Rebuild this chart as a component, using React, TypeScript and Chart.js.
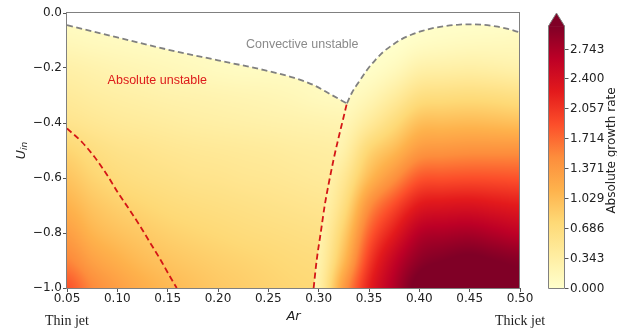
import React, { useEffect, useRef } from 'react';
import { Chart, registerables } from 'chart.js';

Chart.register(...registerables);

// U_in rows shared by both growth-rate grids
const uinGrid = [0, -0.1, -0.2, -0.3, -0.4, -0.5, -0.6, -0.7, -0.8, -0.9, -1.0];

// Thin-jet side of the field (left of the right-hand absolute branch)
const arLeftGrid = [0.05, 0.075, 0.1, 0.125, 0.15, 0.175, 0.2, 0.225, 0.25, 0.275, 0.3, 0.325];
const leftGrowth: number[][] = [
  [0.05, 0.05, 0.05, 0.05, 0.05, 0.05, 0.05, 0.05, 0.05, 0.05, 0.05, 0.05],
  [0.15, 0.12, 0.1, 0.08, 0.07, 0.06, 0.06, 0.06, 0.06, 0.06, 0.06, 0.05],
  [0.3, 0.26, 0.22, 0.19, 0.16, 0.13, 0.1, 0.08, 0.08, 0.08, 0.08, 0.06],
  [0.42, 0.37, 0.33, 0.3, 0.27, 0.25, 0.23, 0.21, 0.19, 0.16, 0.12, 0.1],
  [0.55, 0.49, 0.44, 0.41, 0.38, 0.35, 0.33, 0.31, 0.29, 0.27, 0.25, 0.23],
  [0.78, 0.66, 0.58, 0.54, 0.5, 0.47, 0.45, 0.43, 0.41, 0.38, 0.36, 0.34],
  [0.95, 0.8, 0.7, 0.64, 0.6, 0.56, 0.54, 0.51, 0.49, 0.46, 0.43, 0.41],
  [1.12, 0.95, 0.84, 0.77, 0.71, 0.67, 0.64, 0.61, 0.58, 0.55, 0.52, 0.49],
  [1.32, 1.1, 0.98, 0.9, 0.83, 0.78, 0.74, 0.7, 0.67, 0.64, 0.61, 0.58],
  [1.55, 1.3, 1.15, 1.03, 0.95, 0.89, 0.84, 0.8, 0.76, 0.72, 0.69, 0.66],
  [1.85, 1.52, 1.32, 1.17, 1.06, 0.98, 0.91, 0.86, 0.81, 0.77, 0.74, 0.71],
];

// Thick-jet side of the field
const arRightGrid = [0.275, 0.3, 0.325, 0.35, 0.375, 0.4, 0.425, 0.45, 0.475, 0.5];
const rightGrowth: number[][] = [
  [0.0, 0.0, 0.02, 0.0, 0.0, 0.0, 0.0, 0.0, 0.0, 0.0],
  [0.02, 0.02, 0.02, 0.0, 0.0, 0.05, 0.08, 0.1, 0.11, 0.12],
  [0.03, 0.03, 0.03, 0.03, 0.12, 0.28, 0.31, 0.33, 0.31, 0.28],
  [0.08, 0.08, 0.08, 0.18, 0.38, 0.62, 0.66, 0.68, 0.66, 0.62],
  [0.1, 0.1, 0.18, 0.42, 0.7, 1.0, 1.03, 1.05, 1.03, 1.0],
  [0.13, 0.15, 0.3, 0.77, 1.05, 1.37, 1.42, 1.45, 1.45, 1.45],
  [0.16, 0.2, 0.48, 1.05, 1.45, 1.82, 1.86, 1.88, 1.87, 1.85],
  [0.18, 0.22, 0.65, 1.45, 1.9, 2.27, 2.33, 2.35, 2.3, 2.25],
  [0.2, 0.25, 0.85, 1.75, 2.25, 2.65, 2.72, 2.75, 2.68, 2.6],
  [0.22, 0.28, 1.05, 2.0, 2.55, 2.9, 3.0, 3.05, 3.0, 2.95],
  [0.25, 0.32, 1.35, 2.2, 2.7, 3.1, 3.15, 3.15, 3.1, 3.05],
];

// Convective / absolute boundary: two branches meeting at a cusp
const convLeftAr = [0.05, 0.1, 0.15, 0.2, 0.245, 0.275, 0.295, 0.312, 0.328];
const convLeftUin = [-0.044, -0.089, -0.133, -0.172, -0.207, -0.235, -0.262, -0.296, -0.329];
const convRightAr = [0.328, 0.333, 0.34, 0.348, 0.356, 0.364, 0.373, 0.382, 0.392, 0.403, 0.415, 0.427, 0.44, 0.452, 0.464, 0.476, 0.488, 0.5];
const convRightUin = [-0.329, -0.29, -0.25, -0.207, -0.172, -0.142, -0.117, -0.096, -0.079, -0.065, -0.054, -0.047, -0.042, -0.041, -0.043, -0.049, -0.058, -0.071];

// Absolute-instability branches
const absLeftAr = [0.05, 0.065, 0.077, 0.09, 0.1, 0.112, 0.123, 0.133, 0.143, 0.151, 0.159];
const absLeftUin = [-0.42, -0.47, -0.522, -0.59, -0.65, -0.715, -0.777, -0.838, -0.898, -0.95, -1.0];
const absRightAr = [0.295, 0.298, 0.302, 0.306, 0.31, 0.315, 0.32, 0.324, 0.328];
const absRightUin = [-1.0, -0.9, -0.8, -0.7, -0.62, -0.53, -0.45, -0.39, -0.329];

const arTicks = [0.05, 0.1, 0.15, 0.2, 0.25, 0.3, 0.35, 0.4, 0.45, 0.5];
const uinTicks = [0, -0.2, -0.4, -0.6, -0.8, -1.0];
const cbarTicks = [0, 0.343, 0.686, 1.029, 1.371, 1.714, 2.057, 2.4, 2.743];
const cbarMax = 3.0;

const ylOrRd = ['#ffffcc', '#ffeda0', '#fed976', '#feb24c', '#fd8d3c', '#fc4e2a', '#e31a1c', '#bd0026', '#800026'];

const GRAY = '#808080';
const RED = '#d41616';
const TEXT = '#222222';
const SANS = '"DejaVu Sans", sans-serif';

const ylOrRdRgb = ylOrRd.map((h) => [
  parseInt(h.slice(1, 3), 16),
  parseInt(h.slice(3, 5), 16),
  parseInt(h.slice(5, 7), 16),
]);

function colorFor(v: number): number[] {
  const n = ylOrRdRgb.length - 1;
  const t = Math.min(Math.max(v / cbarMax, 0), 1) * n;
  const i = Math.min(Math.floor(t), n - 1);
  const f = t - i;
  const a = ylOrRdRgb[i];
  const b = ylOrRdRgb[i + 1];
  return [0, 1, 2].map((k) => Math.round(a[k] + (b[k] - a[k]) * f));
}

// Catmull-Rom weights for smooth shading between grid nodes
function catmull(p0: number, p1: number, p2: number, p3: number, t: number) {
  return p1 + 0.5 * t * (p2 - p0 + t * (2 * p0 - 5 * p1 + 4 * p2 - p3 + t * (3 * (p1 - p2) + p3 - p0)));
}

function sampleGrid(grid: number[][], cols: number[], ar: number, uin: number) {
  const nx = cols.length;
  const ny = uinGrid.length;
  const fi = Math.min(Math.max((ar - cols[0]) / (cols[1] - cols[0]), 0), nx - 1);
  const fj = Math.min(Math.max((uinGrid[0] - uin) / (uinGrid[0] - uinGrid[1]), 0), ny - 1);
  const i = Math.min(Math.floor(fi), nx - 2);
  const j = Math.min(Math.floor(fj), ny - 2);
  const tx = fi - i;
  const ty = fj - j;
  const ci = (k: number) => Math.min(Math.max(k, 0), nx - 1);
  const cj = (k: number) => Math.min(Math.max(k, 0), ny - 1);
  const rowVals = [-1, 0, 1, 2].map((dj) => {
    const r = grid[cj(j + dj)];
    return catmull(r[ci(i - 1)], r[ci(i)], r[ci(i + 1)], r[ci(i + 2)], tx);
  });
  return catmull(rowVals[0], rowVals[1], rowVals[2], rowVals[3], ty);
}

function renderField(chart: any, grid: number[][], cols: number[]) {
  const { chartArea: area, scales } = chart;
  const left = Math.floor(area.left);
  const top = Math.floor(area.top);
  const w = Math.ceil(area.right) - left;
  const h = Math.ceil(area.bottom) - top;
  const tile = document.createElement('canvas');
  tile.width = w;
  tile.height = h;
  const tctx = tile.getContext('2d')!;
  const img = tctx.createImageData(w, h);
  for (let py = 0; py < h; py++) {
    const uin = scales.y.getValueForPixel(top + py + 0.5);
    for (let px = 0; px < w; px++) {
      const ar = scales.x.getValueForPixel(left + px + 0.5);
      const [r, g, b] = colorFor(sampleGrid(grid, cols, ar, uin));
      const o = (py * w + px) * 4;
      img.data[o] = r;
      img.data[o + 1] = g;
      img.data[o + 2] = b;
      img.data[o + 3] = 255;
    }
  }
  tctx.putImageData(img, 0, 0);
  return { tile, left, top };
}

// Follows a dataset's drawn curve using the control points Chart.js computed
function traceForward(ctx: CanvasRenderingContext2D, pts: any[], move: boolean) {
  pts.forEach((p, k) => {
    if (k === 0) {
      if (move) ctx.moveTo(p.x, p.y);
      else ctx.lineTo(p.x, p.y);
      return;
    }
    const q = pts[k - 1];
    ctx.bezierCurveTo(q.cp2x, q.cp2y, p.cp1x, p.cp1y, p.x, p.y);
  });
}

function traceBackward(ctx: CanvasRenderingContext2D, pts: any[]) {
  for (let k = pts.length - 1; k >= 0; k--) {
    const p = pts[k];
    if (k === pts.length - 1) {
      ctx.lineTo(p.x, p.y);
      continue;
    }
    const q = pts[k + 1];
    ctx.bezierCurveTo(q.cp1x, q.cp1y, p.cp2x, p.cp2y, p.x, p.y);
  }
}

const toPoints = (xs: number[], ys: number[]) => xs.map((x, i) => ({ x, y: ys[i] }));

function dashed(xs: number[], ys: number[], color: string) {
  return {
    data: toPoints(xs, ys),
    borderColor: color,
    borderWidth: 1.8,
    borderDash: [6, 3.5],
    pointRadius: 0,
    fill: false,
    cubicInterpolationMode: 'monotone' as const,
  };
}

// Paints the growth-rate field below the convective boundary
const fieldPlugin = {
  id: 'growthField',
  beforeDatasetsDraw(chart: any) {
    const { ctx, chartArea: area } = chart;
    const metas = [0, 1, 2, 3].map((i) => chart.getDatasetMeta(i));
    metas.forEach((m) => m.dataset.updateControlPoints(area, 'x'));
    const convL = metas[0].data;
    const convR = metas[1].data;
    const absR = metas[3].data;
    const first = convL[0];
    const lastR = convR[convR.length - 1];

    const rightField = renderField(chart, rightGrowth, arRightGrid);
    const leftField = renderField(chart, leftGrowth, arLeftGrid);

    ctx.save();
    ctx.beginPath();
    ctx.rect(area.left, area.top, area.right - area.left, area.bottom - area.top);
    ctx.clip();

    // whole region under both boundary branches
    ctx.beginPath();
    traceForward(ctx, convL, true);
    traceForward(ctx, convR, false);
    ctx.lineTo(area.right + 2, lastR.y);
    ctx.lineTo(area.right + 2, area.bottom + 2);
    ctx.lineTo(area.left - 2, area.bottom + 2);
    ctx.lineTo(area.left - 2, first.y);
    ctx.closePath();
    ctx.clip();
    ctx.drawImage(rightField.tile, rightField.left, rightField.top);

    // thin-jet side, bounded by the right-hand absolute branch
    ctx.beginPath();
    traceForward(ctx, convL, true);
    traceBackward(ctx, absR);
    ctx.lineTo(absR[0].x, area.bottom + 2);
    ctx.lineTo(area.left - 2, area.bottom + 2);
    ctx.lineTo(area.left - 2, first.y);
    ctx.closePath();
    ctx.clip();
    ctx.drawImage(leftField.tile, leftField.left, leftField.top);
    ctx.restore();
  },
};

// Frame, region labels, axis captions and the colour bar
const decorPlugin = {
  id: 'decor',
  afterDraw(chart: any) {
    const { ctx, chartArea: area, scales } = chart;
    const xs = scales.x;
    const ys = scales.y;
    ctx.save();

    // axes frame
    ctx.strokeStyle = GRAY;
    ctx.lineWidth = 1;
    const L = Math.round(area.left) - 0.5;
    const T = Math.round(area.top) - 0.5;
    const R = Math.round(area.right) - 0.5;
    const B = Math.round(area.bottom) + 0.5;
    ctx.strokeRect(L, T, R - L, B - T);

    // region labels
    ctx.textAlign = 'center';
    ctx.textBaseline = 'middle';
    ctx.font = '12.5px "Liberation Sans", Arial, sans-serif';
    ctx.fillStyle = '#8a8a8a';
    ctx.fillText('Convective unstable', xs.getPixelForValue(0.2837), ys.getPixelForValue(-0.114));
    ctx.fillStyle = '#dd1a1a';
    ctx.fillText('Absolute unstable', xs.getPixelForValue(0.1397), ys.getPixelForValue(-0.245));

    // axis captions
    ctx.fillStyle = TEXT;
    ctx.textBaseline = 'alphabetic';
    ctx.font = 'italic 13px ' + SANS;
    ctx.fillText('Ar', (area.left + area.right) / 2, 319.5);
    ctx.font = '14px "Liberation Serif", "Times New Roman", serif';
    ctx.fillText('Thin jet', area.left, 325);
    ctx.fillText('Thick jet', area.right, 325);

    // U_in, rotated
    ctx.save();
    ctx.translate(24.5, (area.top + area.bottom) / 2);
    ctx.rotate(-Math.PI / 2);
    ctx.font = 'italic 12.5px ' + SANS;
    const wU = ctx.measureText('U').width;
    ctx.font = 'italic 9px ' + SANS;
    const wIn = ctx.measureText('in').width;
    const start = -(wU + wIn) / 2;
    ctx.textAlign = 'left';
    ctx.font = 'italic 12.5px ' + SANS;
    ctx.fillText('U', start, 0);
    ctx.font = 'italic 9px ' + SANS;
    ctx.fillText('in', start + wU, 2);
    ctx.restore();

    // colour bar
    const cbL = Math.round(area.right) + 28;
    const cbR = cbL + 17;
    const cbB = area.bottom;
    const cbTip = area.top;
    const cbTop = cbB - (cbB - cbTip) / 1.05;
    const grad = ctx.createLinearGradient(0, cbB, 0, cbTop);
    ylOrRd.forEach((c, i) => grad.addColorStop(i / (ylOrRd.length - 1), c));
    ctx.fillStyle = grad;
    ctx.fillRect(cbL, cbTop, cbR - cbL, cbB - cbTop);
    ctx.fillStyle = ylOrRd[ylOrRd.length - 1];
    ctx.beginPath();
    ctx.moveTo(cbL, cbTop + 0.5);
    ctx.lineTo((cbL + cbR) / 2, cbTip);
    ctx.lineTo(cbR, cbTop + 0.5);
    ctx.closePath();
    ctx.fill();
    ctx.strokeStyle = GRAY;
    ctx.lineWidth = 1;
    ctx.beginPath();
    ctx.moveTo(cbL + 0.5, cbB + 0.5);
    ctx.lineTo(cbL + 0.5, cbTop);
    ctx.lineTo((cbL + cbR) / 2, cbTip);
    ctx.lineTo(cbR - 0.5, cbTop);
    ctx.lineTo(cbR - 0.5, cbB + 0.5);
    ctx.closePath();
    ctx.stroke();

    ctx.font = '12px ' + SANS;
    ctx.textAlign = 'left';
    ctx.textBaseline = 'middle';
    cbarTicks.forEach((v) => {
      const py = Math.round(cbB - (v / cbarMax) * (cbB - cbTop)) + 0.5;
      ctx.strokeStyle = '#555';
      ctx.beginPath();
      ctx.moveTo(cbR, py);
      ctx.lineTo(cbR + 3.5, py);
      ctx.stroke();
      ctx.fillStyle = TEXT;
      ctx.fillText(v.toFixed(3), cbR + 5, py + 0.5);
    });

    ctx.save();
    ctx.translate(614.5, (cbTip + cbB) / 2);
    ctx.rotate(-Math.PI / 2);
    ctx.textAlign = 'center';
    ctx.textBaseline = 'alphabetic';
    ctx.fillStyle = TEXT;
    ctx.font = '12px ' + SANS;
    ctx.fillText('Absolute growth rate', 0, 0);
    ctx.restore();

    ctx.restore();
  },
};

export default function App() {
  const canvasRef = useRef<HTMLCanvasElement>(null);

  useEffect(() => {
    document.body.style.margin = '0';
    const canvas = canvasRef.current;
    if (!canvas) return;
    const chart = new Chart(canvas, {
      type: 'line',
      data: {
        datasets: [
          dashed(convLeftAr, convLeftUin, GRAY),
          dashed(convRightAr, convRightUin, GRAY),
          dashed(absLeftAr, absLeftUin, RED),
          dashed(absRightAr, absRightUin, RED),
        ] as any,
      },
      options: {
        animation: false,
        responsive: false,
        devicePixelRatio: 1,
        events: [],
        layout: { padding: { left: 0, right: 97, top: 13, bottom: 0 } },
        plugins: { legend: { display: false }, tooltip: { enabled: false } },
        scales: {
          x: {
            type: 'linear',
            min: 0.05,
            max: 0.5,
            afterBuildTicks: (s: any) => {
              s.ticks = arTicks.map((value) => ({ value }));
            },
            afterFit: (s: any) => {
              s.height = 41;
            },
            grid: { display: true, drawOnChartArea: false, drawTicks: true, tickLength: 4, color: '#555' },
            border: { display: false },
            ticks: {
              autoSkip: false,
              maxRotation: 0,
              minRotation: 0,
              padding: 0,
              color: TEXT,
              font: { family: 'DejaVu Sans', size: 12 },
              callback: (v: any) => Number(v).toFixed(2),
            },
          },
          y: {
            type: 'linear',
            min: -1,
            max: 0,
            afterBuildTicks: (s: any) => {
              s.ticks = uinTicks.map((value) => ({ value }));
            },
            afterFit: (s: any) => {
              s.width = 67;
            },
            grid: { display: true, drawOnChartArea: false, drawTicks: true, tickLength: 4, color: '#555' },
            border: { display: false },
            ticks: {
              autoSkip: false,
              padding: 1,
              color: TEXT,
              font: { family: 'DejaVu Sans', size: 12 },
              callback: (v: any) => {
                const n = Number(v);
                return n === 0 ? '0.0' : (n < 0 ? '\u2212' : '') + Math.abs(n).toFixed(1);
              },
            },
          },
        },
      },
      plugins: [fieldPlugin, decorPlugin],
    });
    return () => chart.destroy();
  }, []);

  return (
    <div style={{ width: 617, height: 329 }}>
      <canvas ref={canvasRef} width={617} height={329} style={{ display: 'block' }} />
    </div>
  );
}
